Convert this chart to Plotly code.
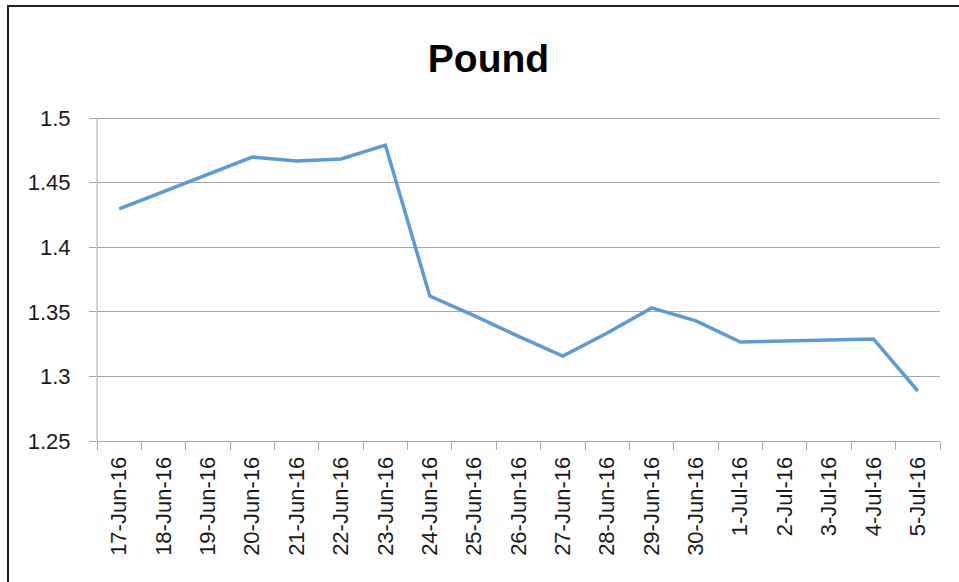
import plotly.graph_objects as go

dates = ["17-Jun-16", "18-Jun-16", "19-Jun-16", "20-Jun-16", "21-Jun-16", "22-Jun-16",
         "23-Jun-16", "24-Jun-16", "25-Jun-16", "26-Jun-16", "27-Jun-16", "28-Jun-16",
         "29-Jun-16", "30-Jun-16", "1-Jul-16", "2-Jul-16", "3-Jul-16", "4-Jul-16", "5-Jul-16"]
pound = [1.4296, 1.443, 1.456, 1.4698, 1.4667, 1.4683, 1.479, 1.3622, 1.347, 1.331,
         1.3158, 1.3336, 1.353, 1.343, 1.3266, 1.3272, 1.3278, 1.329, 1.2887]
y_ticks = [1.25, 1.3, 1.35, 1.4, 1.45, 1.5]
y_labels = ["1.25", "1.3", "1.35", "1.4", "1.45", "1.5"]

W, H = 959, 582
L, R, T, B = 97, 940, 114, 441
Y_TOP = 1.25 + 0.25 * (B - T) / 323  # keeps 1.5 at pixel 118

FONT = "Liberation Sans, Arial, sans-serif"

fig = go.Figure()
fig.add_trace(go.Scatter(x=dates, y=pound, mode="lines",
                         line=dict(color="#5B9BD5", width=3.5), showlegend=False))

px = lambda v: (v - L) / (R - L)
py = lambda v: (B - v) / (B - T)

fig.update_layout(
    width=W, height=H,
    margin=dict(l=L, r=W - R, t=T, b=H - B, pad=0),
    paper_bgcolor="white", plot_bgcolor="white",
    font=dict(family=FONT, color="#1a1a1a", size=22),
    title=dict(text="<b>Pound</b>", x=488.5 / W, xref="container", xanchor="center",
               y=1 - 58 / H, yref="container", yanchor="middle",
               font=dict(size=39, family=FONT, color="#000")),
    xaxis=dict(type="category", tickangle=-90, showgrid=False, showline=True,
               linecolor="#A6A6A6", linewidth=1, ticks="outside", tickson="boundaries",
               ticklen=8, tickcolor="#A6A6A6", tickfont=dict(size=22),
               ticklabelstandoff=6, range=[-0.5, 18.5]),
    yaxis=dict(range=[1.25, Y_TOP], tickvals=y_ticks, ticktext=y_labels, showgrid=True,
               gridcolor="#A6A6A6", gridwidth=1, showline=False, zeroline=False,
               ticks="outside", ticklen=7, tickcolor="#A6A6A6",
               tickfont=dict(size=22), ticklabelstandoff=14),
    shapes=[
        dict(type="path", xref="paper", yref="paper",
             path=f"M {px(8)} {py(600)} L {px(8)} {py(6)} L {px(975)} {py(6)}",
             line=dict(color="#222222", width=2)),
        dict(type="line", xref="paper", yref="paper", x0=0, x1=0, y0=0, y1=py(118),
             line=dict(color="#A6A6A6", width=1)),
    ],
)

fig.write_html("out.html", config={"displayModeBar": False},
               post_script="document.body.style.margin='0px';document.body.style.overflow='hidden';")
